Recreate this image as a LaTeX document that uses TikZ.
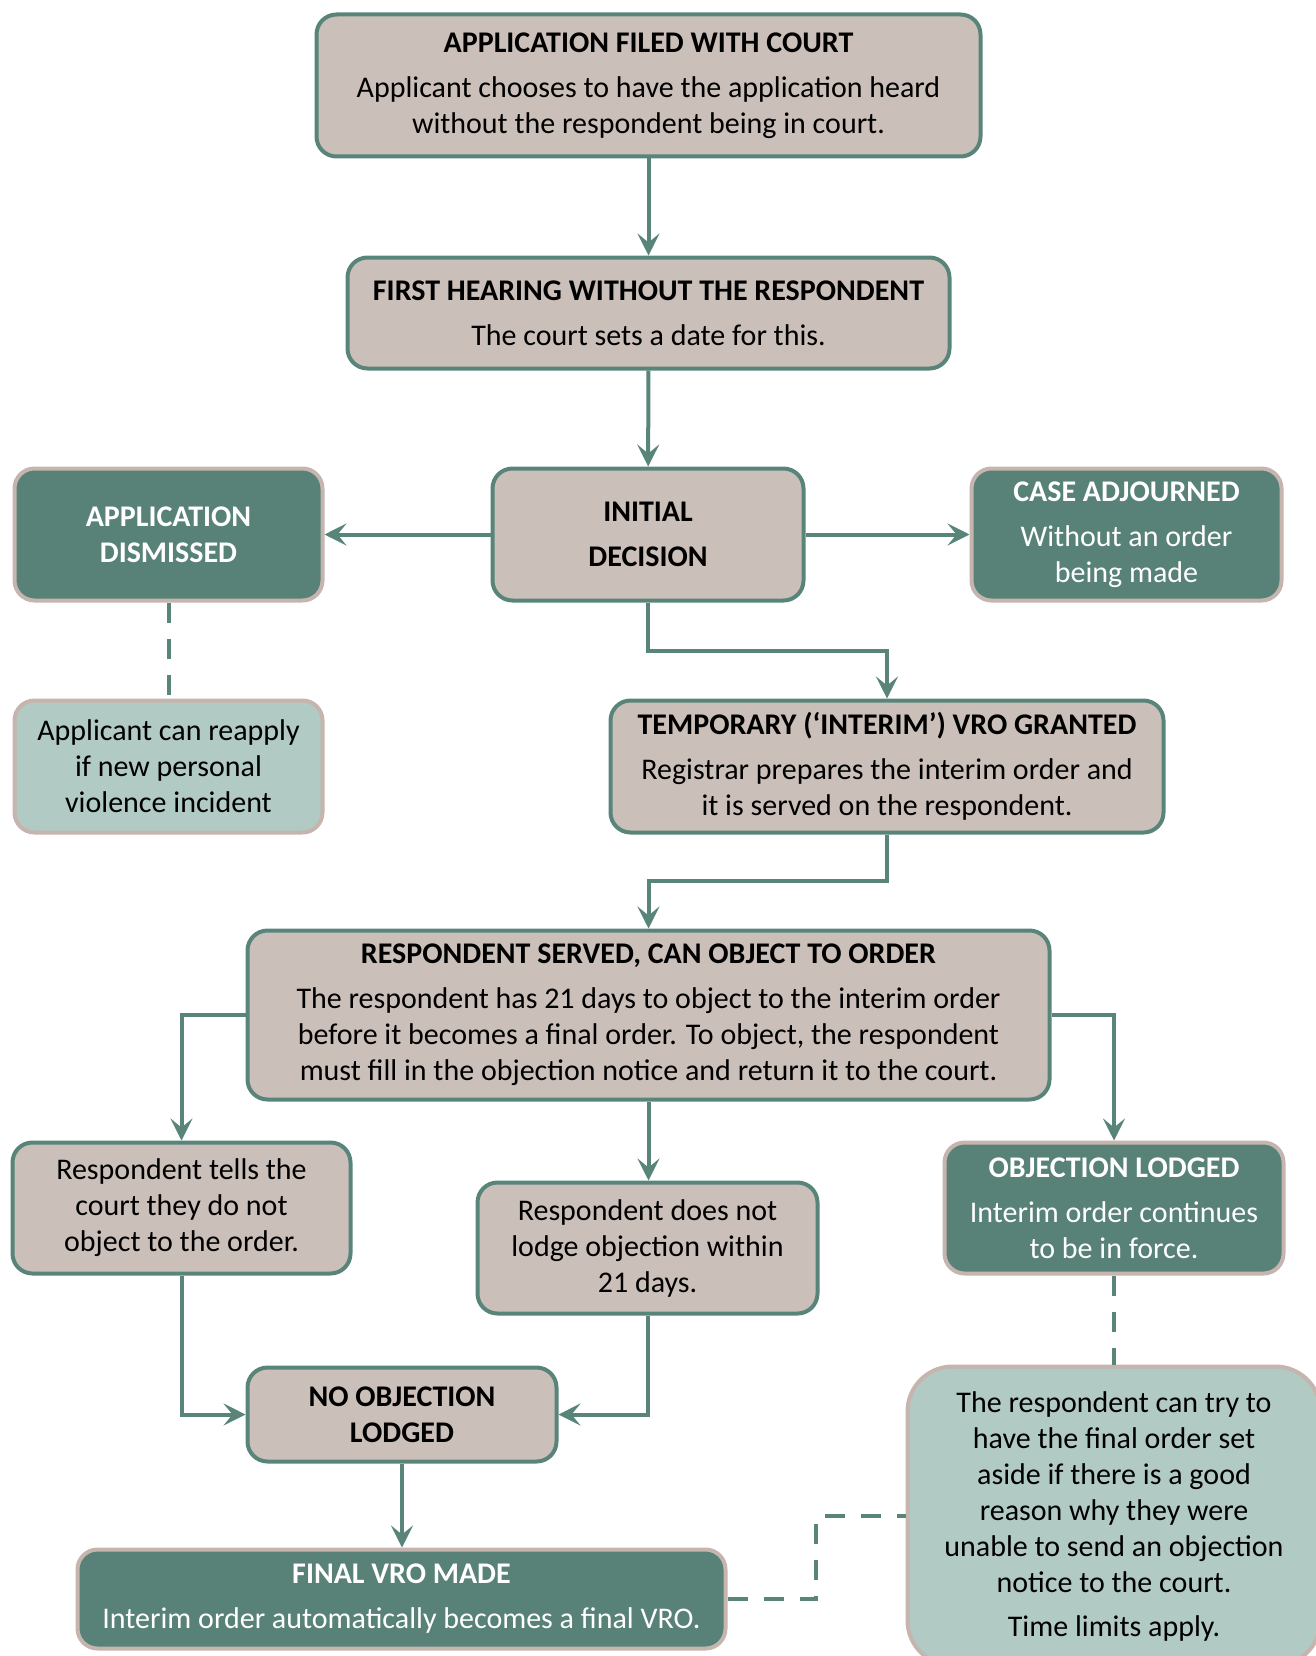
\documentclass[tikz,border=0pt]{standalone}
\usepackage{fontspec}
\setmainfont{Carlito}
\usetikzlibrary{arrows.meta}
\definecolor{beige}{RGB}{203,191,185}
\definecolor{dteal}{RGB}{88,130,119}
\definecolor{lteal}{RGB}{177,202,195}
\definecolor{tborder}{RGB}{88,132,122}
\definecolor{bborder}{RGB}{198,180,174}
\begin{document}
\begin{tikzpicture}[x=1pt,y=-1pt,
 base/.style={rounded corners=20pt, line width=4pt, align=center, inner sep=0pt, font=\fontsize{30}{36}\selectfont},
 bbox/.style={base, fill=beige, draw=tborder},
 dbox/.style={base, fill=dteal, draw=bborder, text=white},
 lbox/.style={base, fill=lteal, draw=bborder},
 arr/.style={draw=tborder, line width=4pt, -{Stealth[length=22pt,width=22pt,inset=9pt]}},
 dsh/.style={draw=tborder, line width=4pt, dash pattern=on 20pt off 16pt},
]
\useasboundingbox (0,0) rectangle (1316,1656);
\clip (0,0) rectangle (1316,1656);

\node[bbox, minimum width=664pt, minimum height=142pt] (b1) at (648.5,85.5)
 {\textbf{APPLICATION FILED WITH COURT}\\[9pt]Applicant chooses to have the application heard\\without the respondent being in court.};
\node[bbox, minimum width=602pt, minimum height=111pt] (b2) at (648.5,313)
 {\textbf{FIRST HEARING WITHOUT THE RESPONDENT}\\[9pt]The court sets a date for this.};
\node[bbox, minimum width=311pt, minimum height=132pt] (init) at (648,534.5)
 {\textbf{INITIAL}\\[9pt]\textbf{DECISION}};
\node[dbox, minimum width=308pt, minimum height=132pt] (dism) at (168.5,534.5)
 {\textbf{APPLICATION}\\\textbf{DISMISSED}};
\node[dbox, minimum width=310pt, minimum height=132pt] (adj) at (1126.5,534.5)
 {\textbf{CASE ADJOURNED}\\[9pt]Without an order\\being made};
\node[lbox, minimum width=308pt, minimum height=132pt] (reap) at (168.5,766.5)
 {Applicant can reapply\\if new personal\\violence incident};
\node[bbox, minimum width=553pt, minimum height=132pt] (temp) at (887,766.5)
 {\textbf{TEMPORARY (‘INTERIM’) VRO GRANTED}\\[9pt]Registrar prepares the interim order and\\it is served on the respondent.};
\node[bbox, minimum width=802pt, minimum height=169pt] (served) at (648.5,1015)
 {\textbf{RESPONDENT SERVED, CAN OBJECT TO ORDER}\\[9pt]The respondent has 21 days to object to the interim order\\before it becomes a final order. To object, the respondent\\must fill in the objection notice and return it to the court.};
\node[bbox, minimum width=338pt, minimum height=131pt] (tells) at (181.5,1208)
 {Respondent tells the\\court they do not\\object to the order.};
\node[bbox, minimum width=340pt, minimum height=131pt] (doesnot) at (647.5,1248)
 {Respondent does not\\lodge objection within\\21 days.};
\node[dbox, minimum width=339pt, minimum height=131pt] (obj) at (1114,1208)
 {\textbf{OBJECTION LODGED}\\[9pt]Interim order continues\\to be in force.};
\node[bbox, minimum width=309pt, minimum height=94pt] (noobj) at (402,1414.5)
 {\textbf{NO OBJECTION}\\\textbf{LODGED}};
\node[dbox, minimum width=648pt, minimum height=99pt] (final) at (401.5,1599)
 {\textbf{FINAL VRO MADE}\\[9pt]Interim order automatically becomes a final VRO.};
\node[lbox, rounded corners=45pt, minimum width=413pt, minimum height=299pt] (try) at (1114,1516)
 {The respondent can try to\\have the final order set\\aside if there is a good\\reason why they were\\unable to send an objection\\notice to the court.\\[8pt]Time limits apply.};

\draw[arr] (b1) -- (b2);
\draw[arr] (b2) -- (init);
\draw[arr] (init.west) -- (dism.east);
\draw[arr] (init.east) -- (adj.west);
\draw[arr] (init.south) -- ++(0,48) -| (temp.north);
\draw[arr] (temp.south) -- ++(0,46) -| (served.north);
\draw[arr] (served.west) -| (tells.north);
\draw[arr] (served.east) -| (obj.north);
\draw[arr] (served.south) -- (served.south |- doesnot.north);
\draw[arr] (tells.south) |- (noobj.west);
\draw[arr] (doesnot.south) |- (noobj.east);
\draw[arr] (noobj.south) -- (noobj.south |- final.north);
\draw[dsh] (dism.south) -- (reap.north);
\draw[dsh] (obj.south) -- (try.north);
\coordinate (dk) at (816,1516);
\draw[dsh] (final.east) -| (dk) -- (try.west);
\end{tikzpicture}
\end{document}
